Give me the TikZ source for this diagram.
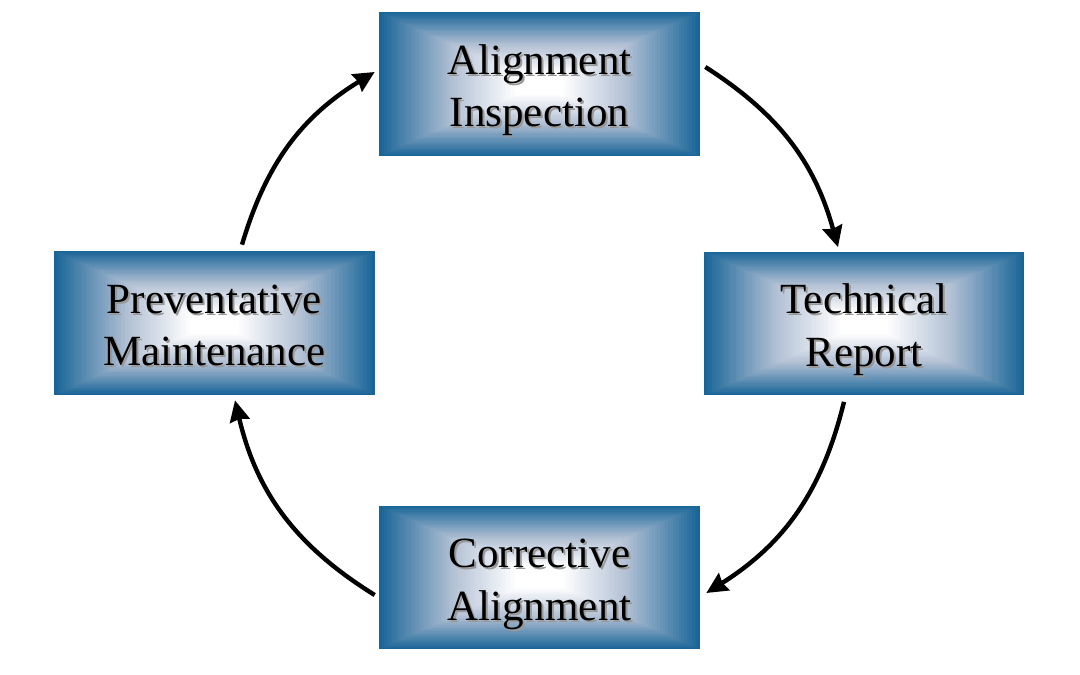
\documentclass[tikz,border=0pt]{standalone}
\usepackage{fontspec}
\setmainfont{Liberation Serif}
\usetikzlibrary{calc,arrows.meta}
\definecolor{boxblue}{RGB}{25,101,152}
\definecolor{boxmid}{RGB}{178,192,212}
\newcommand\myhs{\rule{0pt}{26.5pt}}
\newcommand\myds{\rule[-7.6pt]{0pt}{0pt}}
\tikzset{
  boxfont/.style={font=\fontsize{24.5}{30}\selectfont},
  gbox/.style={rectangle, inner sep=0pt, minimum width=6.42cm, minimum height=2.88cm,
    align=center, boxfont, text=black,
    path picture={
      \foreach \i in {0,...,59}{
        \pgfmathsetmacro\f{\i/120}
        \pgfmathsetmacro\d{1-\i/60}
        \pgfmathtruncatemacro\isouter{\d>=0.55}
        \ifnum\isouter=1
          \pgfmathtruncatemacro\p{(\d-0.55)/0.45*100}
          \def\col{boxblue!\p!boxmid}
        \else
          \pgfmathtruncatemacro\p{max(0,(\d-0.15)/0.4*100)}
          \def\col{boxmid!\p!white}
        \fi
        \fill[color=\col]
          ($(path picture bounding box.south west)!\f!(path picture bounding box.north east)$)
          rectangle
          ($(path picture bounding box.north east)!\f!(path picture bounding box.south west)$);
      }
      \node[align=center, boxfont, text=black!40, inner sep=0pt]
        at ([shift={(0.04cm,-0.04cm)}]path picture bounding box.center) {#1};
    }},
  flow/.style={-{Stealth[length=0.42cm,width=0.4cm,inset=0.04cm]}, line width=0.088cm, black}
}
\begin{document}
\begin{tikzpicture}[x=0.02cm,y=-0.02cm]
\useasboundingbox (0,0) rectangle (1080,675);
\node[gbox={\myhs Alignment\\Inspection\myds}] (ai) at (539.5,84) {\myhs Alignment\\Inspection\myds};
\node[gbox={\myhs Technical\\Report\myds}] (tr) at (864,323.5) {\myhs Technical\\Report\myds};
\node[gbox={\myhs Corrective\\Alignment\myds}] (ca) at (539.5,577.5) {\myhs Corrective\\Alignment\myds};
\node[gbox={\myhs Preventative\\Maintenance\myds}] (pm) at (214.5,323) {\myhs Preventative\\Maintenance\myds};

\draw[flow] ([shift={(5,-17)}]ai.east) to[bend left=21] ([shift={(-26,-4)}]tr.north);
\draw[flow] ([shift={(-20,6)}]tr.south) to[bend left=22] ([shift={(6,15.5)}]ca.east);
\draw[flow] ([shift={(-4,17.5)}]ca.west) to[bend left=22.5] ([shift={(20.5,5)}]pm.south);
\draw[flow] ([shift={(27.5,-6)}]pm.north) to[bend left=21] ([shift={(-4,-12)}]ai.west);
\end{tikzpicture}
\end{document}
